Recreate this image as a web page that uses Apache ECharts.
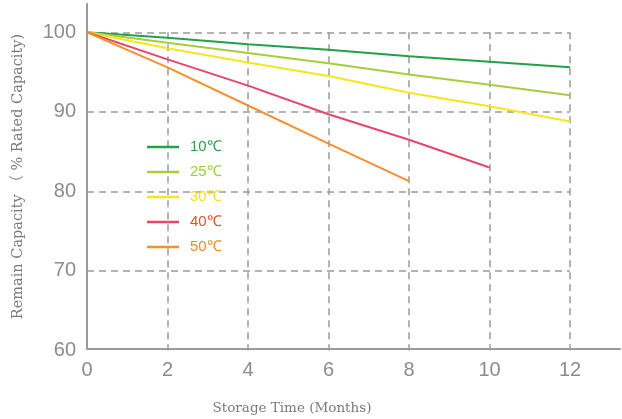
<!DOCTYPE html>
<html>
<head>
<meta charset="utf-8">
<script src="https://cdn.jsdelivr.net/npm/echarts@6/dist/echarts.min.js"></script>
<style>
html,body{margin:0;padding:0;background:#fff;}
#c{width:622px;height:419px;}
</style>
</head>
<body>
<div id="c"></div>
<script>
// Data
const months = [0, 2, 4, 6, 8, 10, 12];
const cap10 = [100, 99.3, 98.5, 97.8, 97.0, 96.3, 95.6];
const cap25 = [100, 98.7, 97.4, 96.1, 94.7, 93.4, 92.1];
const cap30 = [100, 98.0, 96.2, 94.5, 92.4, 90.7, 88.8];
const cap40 = [100, 96.6, 93.3, 89.7, 86.5, 83.0];
const cap50 = [100, 95.6, 90.8, 86.0, 81.3];
const seriesNames = ['10℃', '25℃', '30℃', '40℃', '50℃'];
const yTitle = 'Remain Capacity （ % Rated Capacity)';
const xTitle = 'Storage Time (Months)';

// Styles
const lineColors = ['#22a04a', '#a6cd3a', '#f5e61e', '#e8466a', '#f5902e'];
const legendTextColors = ['#2e9e4a', '#9ccc3a', '#f2e020', '#e0502a', '#f08a2a'];
const allValues = [cap10, cap25, cap30, cap40, cap50];

const chart = echarts.init(document.getElementById('c'));
const gridLine = { show: true, showMinLine: false, lineStyle: { color: '#9a9a9a', type: [7, 5], width: 1.5 } };
const labelFont = { color: '#8c8c8c', fontSize: 20, fontFamily: 'Liberation Sans, Arial, sans-serif' };

chart.setOption({
  backgroundColor: '#ffffff',
  animation: false,
  grid: [
    { left: 87, right: 2, top: 4, bottom: 70 },
    { left: 87, width: 483, top: 32.3, bottom: 68.5 }
  ],
  xAxis: [
    { gridIndex: 0, type: 'value', min: 0, max: 13.24,
      axisLine: { show: true, lineStyle: { color: '#9a9a9a', width: 2 } },
      axisTick: { show: false }, axisLabel: { show: false }, splitLine: { show: false } },
    { gridIndex: 1, type: 'value', min: 0, max: 12, interval: 2,
      axisLine: { show: false }, axisTick: { show: false },
      axisLabel: Object.assign({ margin: 10 }, labelFont),
      splitLine: gridLine }
  ],
  yAxis: [
    { gridIndex: 0, type: 'value', min: 60, max: 103.6,
      axisLine: { show: true, lineStyle: { color: '#9a9a9a', width: 2 } },
      axisTick: { show: false }, axisLabel: { show: false }, splitLine: { show: false },
      name: yTitle, nameLocation: 'middle', nameRotate: 90, nameGap: 62,
      nameTextStyle: { color: '#7a7a7a', fontSize: 14.5, fontFamily: 'DejaVu Serif, Noto Sans CJK SC, serif' } },
    { gridIndex: 1, type: 'value', min: 60, max: 100, interval: 10,
      axisLine: { show: false }, axisTick: { show: false },
      axisLabel: Object.assign({ margin: 11 }, labelFont),
      splitLine: gridLine }
  ],
  legend: {
    orient: 'vertical', left: 142, top: 134.5,
    icon: 'rect',
    itemWidth: 32, itemHeight: 2.5, itemGap: 10,
    textStyle: { fontSize: 15, fontFamily: 'Liberation Sans, Arial, sans-serif', padding: [0, 0, 0, 6] },
    data: seriesNames.map((n, i) => ({ name: n, textStyle: { color: legendTextColors[i] } }))
  },
  graphic: [
    { type: 'text', x: 292, y: 408,
      style: { text: xTitle, align: 'center', verticalAlign: 'middle', fill: '#7a7a7a',
        font: '13.5px "DejaVu Serif", serif' } }
  ],
  series: seriesNames.map((n, i) => ({
    name: n, type: 'line', xAxisIndex: 1, yAxisIndex: 1,
    symbol: 'none', showSymbol: false,
    lineStyle: { color: lineColors[i], width: 2 },
    itemStyle: { color: lineColors[i] },
    data: allValues[i].map((v, k) => [months[k], v])
  }))
});
</script>
</body>
</html>
